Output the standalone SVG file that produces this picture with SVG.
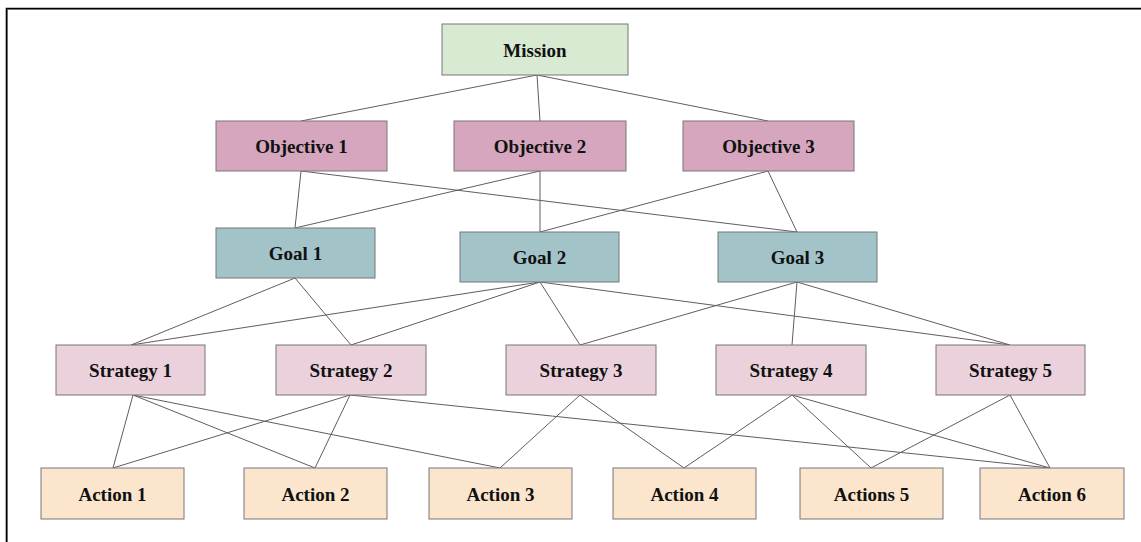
<svg xmlns="http://www.w3.org/2000/svg" width="1141" height="542" viewBox="0 0 1141 542">
  <style>
    .box { stroke: #777; stroke-width: 1; }
    .mission { fill: #d9ead3; }
    .objective { fill: #d5a6bd; }
    .goal { fill: #a2c4c9; }
    .strategy { fill: #ead1dc; }
    .action { fill: #fce5cd; }
    .label { font-family: "Liberation Serif", "Times New Roman", serif; font-weight: bold; font-size: 19px; fill: #111; text-anchor: middle; }
    .link { stroke: #5e5e5e; stroke-width: 1; fill: none; }
  </style>
  <rect width="1141" height="542" fill="#fff"/>

  <!-- page frame: top and left edge -->
  <g id="frame" fill="none">
    <path d="M7.5,542 V9.5 H1141" stroke="#999" stroke-width="1"/>
    <path d="M6.5,542 V8.5 H1141" stroke="#000" stroke-width="1.6"/>
  </g>

  <!-- connectors -->
  <g id="connectors" class="link">
    <!-- mission to objectives -->
    <line x1="537" y1="75" x2="301" y2="121"/>
    <line x1="537" y1="75" x2="540" y2="121"/>
    <line x1="537" y1="75" x2="768" y2="121"/>
    <!-- objectives to goals -->
    <line x1="301" y1="171" x2="295" y2="228"/>
    <line x1="301" y1="171" x2="797" y2="232"/>
    <line x1="540" y1="171" x2="295" y2="228"/>
    <line x1="540" y1="171" x2="540" y2="232"/>
    <line x1="768" y1="171" x2="540" y2="232"/>
    <line x1="768" y1="171" x2="797" y2="232"/>
    <!-- goals to strategies -->
    <line x1="295" y1="278" x2="131" y2="345"/>
    <line x1="295" y1="278" x2="351" y2="345"/>
    <line x1="540" y1="282" x2="131" y2="345"/>
    <line x1="540" y1="282" x2="351" y2="345"/>
    <line x1="540" y1="282" x2="580" y2="345"/>
    <line x1="540" y1="282" x2="1010" y2="345"/>
    <line x1="797" y1="282" x2="580" y2="345"/>
    <line x1="797" y1="282" x2="792" y2="345"/>
    <line x1="797" y1="282" x2="1010" y2="345"/>
    <!-- strategies to actions -->
    <line x1="133" y1="395" x2="113" y2="468"/>
    <line x1="133" y1="395" x2="315" y2="468"/>
    <line x1="133" y1="395" x2="500" y2="468"/>
    <line x1="350" y1="395" x2="113" y2="468"/>
    <line x1="350" y1="395" x2="315" y2="468"/>
    <line x1="350" y1="395" x2="1050" y2="468"/>
    <line x1="580" y1="395" x2="500" y2="468"/>
    <line x1="580" y1="395" x2="684" y2="468"/>
    <line x1="792" y1="395" x2="684" y2="468"/>
    <line x1="792" y1="395" x2="871" y2="468"/>
    <line x1="792" y1="395" x2="1050" y2="468"/>
    <line x1="1010" y1="395" x2="871" y2="468"/>
    <line x1="1010" y1="395" x2="1050" y2="468"/>
  </g>

  <!-- mission -->
  <g id="mission">
    <rect class="box mission" x="442" y="24" width="186" height="51"/>
    <text class="label" x="535" y="56.5">Mission</text>
  </g>

  <!-- objectives -->
  <g id="objective1">
    <rect class="box objective" x="216" y="121" width="171" height="50"/>
    <text class="label" x="301.5" y="152.5">Objective 1</text>
  </g>
  <g id="objective2">
    <rect class="box objective" x="454" y="121" width="172" height="50"/>
    <text class="label" x="540" y="152.5">Objective 2</text>
  </g>
  <g id="objective3">
    <rect class="box objective" x="683" y="121" width="171" height="50"/>
    <text class="label" x="768.5" y="152.5">Objective 3</text>
  </g>

  <!-- goals -->
  <g id="goal1">
    <rect class="box goal" x="216" y="228" width="159" height="50"/>
    <text class="label" x="295.5" y="259.5">Goal 1</text>
  </g>
  <g id="goal2">
    <rect class="box goal" x="460" y="232" width="159" height="50"/>
    <text class="label" x="539.5" y="263.5">Goal 2</text>
  </g>
  <g id="goal3">
    <rect class="box goal" x="718" y="232" width="159" height="50"/>
    <text class="label" x="797.5" y="263.5">Goal 3</text>
  </g>

  <!-- strategies -->
  <g id="strategy1">
    <rect class="box strategy" x="56" y="345" width="149" height="50"/>
    <text class="label" x="130.5" y="377">Strategy 1</text>
  </g>
  <g id="strategy2">
    <rect class="box strategy" x="276" y="345" width="150" height="50"/>
    <text class="label" x="351" y="377">Strategy 2</text>
  </g>
  <g id="strategy3">
    <rect class="box strategy" x="506" y="345" width="150" height="50"/>
    <text class="label" x="581" y="377">Strategy 3</text>
  </g>
  <g id="strategy4">
    <rect class="box strategy" x="716" y="345" width="150" height="50"/>
    <text class="label" x="791" y="377">Strategy 4</text>
  </g>
  <g id="strategy5">
    <rect class="box strategy" x="936" y="345" width="149" height="50"/>
    <text class="label" x="1010.5" y="377">Strategy 5</text>
  </g>

  <!-- actions -->
  <g id="action1">
    <rect class="box action" x="41" y="468" width="143" height="51"/>
    <text class="label" x="112.5" y="500.5">Action 1</text>
  </g>
  <g id="action2">
    <rect class="box action" x="244" y="468" width="143" height="51"/>
    <text class="label" x="315.5" y="500.5">Action 2</text>
  </g>
  <g id="action3">
    <rect class="box action" x="429" y="468" width="143" height="51"/>
    <text class="label" x="500.5" y="500.5">Action 3</text>
  </g>
  <g id="action4">
    <rect class="box action" x="613" y="468" width="143" height="51"/>
    <text class="label" x="684.5" y="500.5">Action 4</text>
  </g>
  <g id="action5">
    <rect class="box action" x="800" y="468" width="143" height="51"/>
    <text class="label" x="871.5" y="500.5">Actions 5</text>
  </g>
  <g id="action6">
    <rect class="box action" x="980" y="468" width="144" height="51"/>
    <text class="label" x="1052" y="500.5">Action 6</text>
  </g>
</svg>
